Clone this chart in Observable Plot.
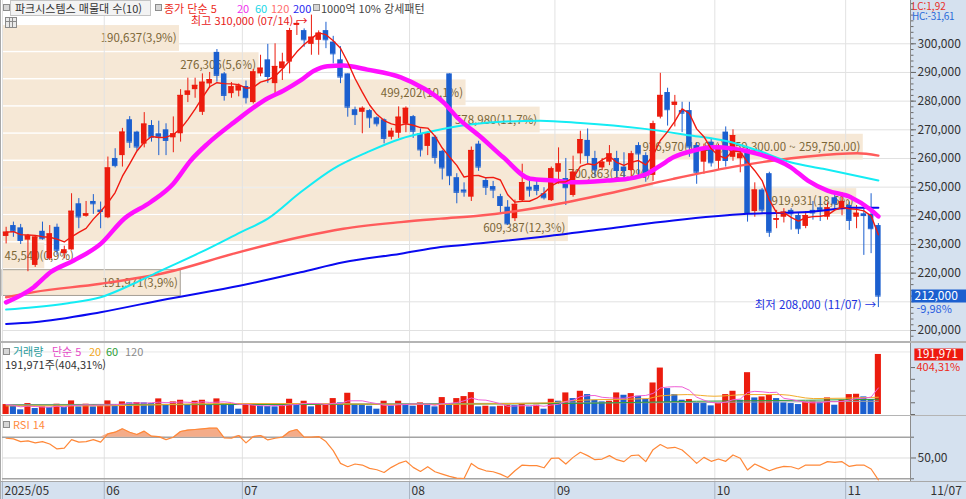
<!DOCTYPE html>
<html lang="ko">
<head>
<meta charset="utf-8">
<script src="https://cdn.jsdelivr.net/npm/d3@7"></script>
<script src="https://cdn.jsdelivr.net/npm/@observablehq/plot@0.6"></script>
<style>
html,body{margin:0;padding:0;background:#fff;}
#wrap{position:relative;width:966px;height:499px;overflow:hidden;background:#fff;font-family:"Noto Sans CJK KR","Noto Sans",sans-serif;color:#333;}
.layer{position:absolute;left:0;}
.bg{position:absolute;}
.t{position:absolute;white-space:nowrap;font-size:11px;line-height:12px;}
.sq{position:absolute;width:5px;height:5px;border:1px solid #8c8c8c;background:#d6d6d6;}
</style>
</head>
<body>
<div id="wrap"></div>
<script>
// ---------- DATA (prices in thousand won) ----------
const monthStarts = [
  {i: 0, label: "2025/05"}, {i: 14, label: "06"}, {i: 33, label: "07"}, {i: 56, label: "08"},
  {i: 76, label: "09"}, {i: 98, label: "10"}, {i: 116, label: "11"}
];
const lastDateLabel = "11/07";
const highDateLabel = "07/14";

const opens = [232.8,236.6,235.8,231.5,222.7,234.6,225.0,236.0,226.8,228.1,244.2,239.8,245.0,242.0,
  239.3,260.0,261.0,273.5,269.2,265.0,271.5,268.6,270.0,267.2,268.6,282.0,284.0,276.1,286.0,297.0,289.5,282.6,283.5,
  285.1,279.5,289.5,294.4,286.1,291.3,293.6,306.4,304.6,299.8,301.2,304.6,300.6,294.4,289.5,277.0,276.1,276.7,274.2,273.5,267.4,268.8,272.0,
  274.6,268.6,264.2,267.4,262.5,289.5,253.3,249.0,246.5,265.0,252.3,250.2,246.7,243.0,239.0,245.3,250.0,250.6,247.7,
  245.3,255.2,253.0,247.1,261.6,266.3,260.0,256.7,258.7,260.0,257.0,255.8,264.5,261.0,254.1,274.4,283.0,278.5,276.7,276.7,264.5,258.7,
  265.7,259.0,269.2,260.4,259.9,263.0,241.5,249.0,254.7,238.4,239.5,241.9,240.1,236.3,241.9,242.8,239.5,246.3,242.5,243.6,239.5,
  240.7,240.5,236.6];
const highs = [236.0,237.8,237.0,233.5,233.0,237.8,236.6,237.1,229.4,247.7,246.0,245.0,247.4,244.8,
  260.5,263.4,270.5,274.6,269.5,276.0,273.2,273.0,272.1,274.5,284.0,288.0,288.0,289.5,290.0,298.0,290.0,286.5,286.0,
  287.0,291.0,296.0,299.8,300.0,296.7,305.4,308.0,305.2,310.0,304.5,307.5,302.6,299.0,289.5,277.9,278.0,277.0,274.5,273.8,270.5,278.0,278.0,
  275.0,270.3,269.0,268.0,262.8,289.5,254.7,251.5,264.0,266.0,253.0,252.0,247.5,245.3,245.5,258.0,253.0,252.5,249.8,
  257.0,263.7,260.0,260.8,269.5,270.3,262.5,260.0,264.5,262.5,262.0,262.5,265.5,262.0,273.0,289.7,284.5,282.0,279.6,279.6,265.5,265.0,
  267.0,265.0,271.0,270.0,263.0,263.5,251.5,249.5,255.2,241.9,242.5,242.5,241.0,241.5,245.0,246.5,244.5,247.5,248.0,244.8,243.6,
  242.4,247.7,237.3];
const lows = [230.2,232.5,230.0,220.5,222.0,231.5,224.4,226.2,225.0,228.0,235.5,239.5,240.5,235.5,
  239.0,256.7,257.0,263.5,262.5,263.7,265.7,261.0,261.0,262.0,265.7,279.5,281.0,275.0,284.5,286.6,280.0,281.0,281.5,
  279.0,279.0,288.5,286.2,282.0,287.2,289.5,302.9,298.8,296.0,296.0,298.3,293.0,286.1,274.4,271.5,268.6,270.5,271.0,265.1,266.5,267.0,269.0,
  267.0,260.5,261.0,258.0,252.5,250.5,244.2,246.5,245.0,255.5,247.1,246.0,241.0,236.6,238.0,244.8,246.5,247.0,245.5,
  245.0,251.0,243.6,246.5,258.0,258.1,253.5,255.8,257.5,253.3,253.3,253.3,253.5,251.7,252.0,273.8,271.3,271.0,269.0,260.4,251.0,254.5,
  257.0,256.0,257.0,259.0,255.0,237.8,239.5,240.5,232.5,235.5,237.5,235.0,233.5,235.5,238.5,238.0,238.5,242.5,240.0,234.9,235.5,
  226.2,226.8,208.0];
const closes = [234.3,234.6,231.4,233.0,232.6,232.0,233.7,228.0,228.1,241.6,239.6,240.7,244.2,241.5,
  256.7,257.5,269.2,265.7,264.0,272.0,267.4,267.4,266.3,268.6,282.0,283.5,285.5,286.6,287.5,289.0,282.0,285.0,285.3,
  281.2,290.2,291.5,288.6,292.1,293.6,304.6,307.1,301.4,302.3,303.7,301.4,296.5,288.4,277.9,275.3,277.5,274.2,272.1,267.0,269.5,274.4,277.5,
  269.5,263.0,268.6,260.4,256.7,254.0,248.2,248.3,262.8,257.0,250.0,249.0,243.6,237.2,244.0,251.6,249.0,248.9,246.3,
  256.4,258.1,249.8,255.2,266.6,261.0,256.0,258.7,261.6,255.8,255.8,261.6,261.6,254.1,272.1,282.0,277.0,279.6,275.8,264.0,255.2,263.4,
  258.5,264.0,259.3,268.0,261.6,240.8,249.0,242.0,234.3,239.0,241.3,240.7,235.5,240.1,241.0,241.9,242.8,244.2,245.0,238.4,240.9,
  240.1,235.5,212.0];

// daily volume (shares)
const volumes = [31800,26500,14900,35000,19100,24400,22300,32900,22300,43500,24400,32900,24400,27600,
  43500,28600,40300,37100,38200,37100,35000,49900,29700,40300,45600,29700,42400,45600,29700,49900,35000,29700,17000,
  32900,35000,26500,25500,24400,29700,48800,30800,42400,24400,29700,31800,50900,37100,67900,31800,30800,26500,17000,42400,27600,42400,29700,
  26500,37100,29700,24400,54100,31800,50900,57300,70000,24400,26500,24400,26500,29700,28600,31800,24400,29700,17000,
  48800,42400,69000,50900,74300,63700,45600,40300,42400,69000,61500,66800,58400,48800,100800,148500,82800,63700,45600,47700,37100,35000,
  27600,35000,63700,74300,45600,133700,53000,56200,61500,50900,37100,35000,31800,40300,42400,38200,53000,29700,45600,63700,64700,
  56200,47481,191971];

// RSI(14)
const rsi14 = [69,68.4,65.8,66.5,64.5,65.8,63.5,58.7,59.4,67.7,65.2,65.8,67.7,65.2,
  73.2,74.8,78.1,74.8,72.6,75.8,71,70.6,67.7,70,75.5,76.8,77.4,78,78.7,78.7,69.4,69,71.6,
  64.5,70.6,71.6,67.4,69,70,75.5,77.4,70,70,70.6,65.8,57.1,44.8,41.6,44.2,43.2,40,38.7,36.1,41,44.8,47.1,
  41,37.1,41.6,36.8,34.5,32.3,30.6,30.3,44.8,40,37.7,36.8,34.5,31.3,37.7,43.2,42.6,42.6,40.6,
  49.7,50,44.2,50.6,55.5,52.3,48.4,49,52.3,48.4,46.5,52.3,52.9,46.5,58,62.9,59.4,60.3,57.7,51.6,44.8,50.6,
  46.8,49,46.8,52.9,49.7,38.4,44.2,41,37.7,40.3,41.9,41.6,39.4,43.2,43.2,43.2,46.5,45.8,46.5,41.9,43.2,
  43.2,39.4,29];

// price moving averages: [candle index, value]
const ma20Pts = [[0,209.8],[3.8,215.1],[6.1,220.3],[9.3,224.4],[13,230.2],[16.2,238.9],[19.9,244.8],[23,251.2],[25.4,259.3],[27.7,265.1],
  [31.3,272.5],[36,281],[38.2,283.7],[40.5,287.2],[42.3,290.5],[44.2,292.2],[46.4,292.4],[49.7,291],[54.3,288.3],[57.4,284.5],[60.2,279.5],
  [62.1,274.2],[65.3,267.5],[68.4,260.4],[72.1,252.9],[75.3,252.3],[78,251.7],[82.7,252.3],[85.5,252.9],[88.2,254.7],[90,257.5],[91.8,260.4],
  [94.6,262.8],[97.3,263.9],[100.1,263.4],[103.4,261.6],[107.9,257],[110.3,252.3],[113,248.8],[116.2,246.5],[118.9,242.2],[120,239.8]];
const ma60Pts = [[0,207.3],[3.8,208.1],[8.5,209.5],[13,211.6],[17.5,216.3],[20.8,220.3],[26.8,227.3],[32.3,234.3],[36,239],[40.5,248.2],
  [45,256.4],[49.7,262.2],[54.3,266.9],[58,269.2],[63.5,271.8],[73.5,273.2],[79,272.4],[87.3,270.5],[94.2,268],[99.2,266],[103.4,262.8],
  [107.9,258.7],[112.4,256.4],[120,252.3]];
const ma120Pts = [[0,211.6],[3.8,213.4],[13,216.3],[22.2,220.3],[31.3,226.8],[40.5,232.6],[46.4,235.5],[54.3,237.8],[59.8,239],[65.3,240.1],
  [73.5,243],[82.7,247.7],[91.8,252.9],[101,257.5],[105.6,259.3],[110.3,260.7],[117.1,261.8],[120,261]];
const ma200Pts = [[0,202.3],[3.8,202.9],[13,206.4],[22.2,211],[32.3,215.7],[40.5,220.3],[46.4,223.8],[54.3,226.8],[59.8,229.1],[65.3,230.4],
  [73.5,232.6],[82.7,235.5],[91.8,238.4],[102,240.7],[110.3,241.3],[116.5,242.8],[120,242.8]];

// volume moving averages
const volMa20Pts = [[0,27600],[13,27600],[22,31800],[31,35000],[40.5,35000],[49.7,32900],[58.8,31800],[65.3,34000],[74.4,37100],[79,45600],
  [88.2,50900],[90,59400],[93.7,63700],[97.4,58400],[102,63700],[106.6,63700],[111.1,50900],[120,55200]];
const volMa60Pts = [[0,29700],[30,31800],[60,33000],[80,36000],[95,42400],[110,45600],[120,48800]];
const volMa120Pts = [[0,31800],[60,35000],[90,38000],[120,42400]];

// volume profile (매물대), 10 bands from top price band to bottom
const profileVols = [190637, 276306, 499202, 578980, 926970, 700863, 919931, 609387, 45540, 191971];
const profileTop = 306.6, profileBottom = 211.8;
const pocLabel = "(259,300.00 ~ 259,750.00)";

// tick values
const priceTicks = d3.range(200, 301, 10);
const priceMinorTicks = d3.range(198, 315, 2);
const volTicks = [0, 37500, 75000, 112500, 150000];

// ---------- LAYOUT ----------
const fmt = d3.format(",");
const W = 966, ML = 2, MR = 56;
const X_DOMAIN = [-0.5, 124.42];
const xStep = (W - ML - MR) / (X_DOMAIN[1] - X_DOMAIN[0]);
const xAxisEnd = X_DOMAIN[1] + MR / xStep;
const PRICE_H = 341, PRICE_DOMAIN = [196.16, 315.10];
const VOL_TOP = 343, VOL_H = 72, VOL_DOMAIN = [0, 227000];
const RSI_TOP = 416, RSI_H = 65, RSI_DOMAIN = [27.4, 89.9];
const STRIP_TOP = 482, STRIP_H = 17;
const RED = "#ec1c0e", BLUE = "#1b5fcf";
const BODY = 0.38, BAR = 0.42;
const FONT = '"Noto Sans CJK KR","Noto Sans",sans-serif';
const baseStyle = {background: "transparent", overflow: "visible", fontFamily: FONT, fontSize: "12px", color: "#333"};

const N = closes.length;
const candles = d3.range(N).map(i => ({i, o: opens[i], h: highs[i], l: lows[i], c: closes[i]}));
const upC = candles.filter(d => d.c >= d.o), dnC = candles.filter(d => d.c < d.o);
const volData = volumes.map((v, i) => ({i, v, up: i === 0 || v > volumes[i - 1]}));
const rsiData = rsi14.map((r, i) => ({i, r}));
const lastClose = closes[N - 1], prevClose = closes[N - 2];
const chgPct = ((lastClose - prevClose) / prevClose * 100).toFixed(2).replace(".", ",") + "%";
const volRatio = (volumes[N - 1] / volumes[N - 2] * 100).toFixed(2).replace(".", ",") + "%";
const hiIdx = d3.maxIndex(highs), loIdx = d3.minIndex(lows);

const wrap = document.getElementById("wrap");
function bg(css) { const d = document.createElement("div"); d.className = "bg"; d.style.cssText = css; wrap.appendChild(d); }
function place(el, top) { const d = document.createElement("div"); d.className = "layer"; d.style.top = top + "px"; d.appendChild(el); wrap.appendChild(d); }
function txt(html, css) { const d = document.createElement("div"); d.className = "t"; d.style.cssText = css; d.innerHTML = html; wrap.appendChild(d); }
function sq(left, top) { const d = document.createElement("div"); d.className = "sq"; d.style.left = left + "px"; d.style.top = top + "px"; wrap.appendChild(d); }

// background columns
bg(`left:911px;top:0;width:55px;height:499px;background:#d5e1ef;`);
bg(`left:0;top:${STRIP_TOP}px;width:966px;height:${STRIP_H}px;background:#d5e1ef;`);

const lineOpts = (stroke, strokeWidth) => ({x: d => d[0], y: d => d[1], stroke, strokeWidth, curve: "monotone-x"});

// ---------- volume profile layer ----------
const bandStep = (profileTop - profileBottom) / profileVols.length;
const profileTotal = d3.sum(profileVols), profileMax = d3.max(profileVols);
const bands = profileVols.map((v, k) => {
  const hi = profileTop - k * bandStep, lo = hi - bandStep;
  return {v, hi, lo, mid: (hi + lo) / 2, current: lastClose >= lo && lastClose < hi,
    label: `${fmt(v)}(${(v / profileTotal * 100).toFixed(1).replace(".", ",")}%)` + (v === profileMax ? pocLabel : "")};
});
const wideBands = bands.filter(d => d.v / profileMax > 0.12), narrowBands = bands.filter(d => d.v / profileMax <= 0.12);

place(Plot.plot({
  width: W, height: PRICE_H, marginLeft: ML, marginRight: MR, marginTop: 0, marginBottom: 0,
  x: {domain: [0, profileMax / 0.948], axis: null},
  y: {domain: PRICE_DOMAIN, axis: null},
  style: baseStyle,
  marks: [
    Plot.ruleY(priceTicks, {stroke: "#e1e1e1"}),
    Plot.rect(bands, {x1: 0, x2: "v", y1: "lo", y2: "hi", fill: "#f6e8d6", insetTop: 0.7, insetBottom: 0.7}),
    Plot.rect(bands.filter(d => d.current), {x1: 0, x2: "v", y1: "lo", y2: "hi", fill: "none", stroke: "#a59f95", insetTop: 0.7, insetBottom: 0.7}),
    Plot.text(wideBands, {x: "v", y: "mid", text: "label", textAnchor: "end", dx: -3, fill: "#7b6637", fontSize: 11.5}),
    Plot.text(narrowBands, {x: 0, y: "mid", text: "label", textAnchor: "start", dx: 2, fill: "#7b6637", fontSize: 11.5})
  ]
}), 0);

// ---------- price layer ----------
place(Plot.plot({
  width: W, height: PRICE_H, marginLeft: ML, marginRight: MR, marginTop: 0, marginBottom: 0,
  x: {domain: X_DOMAIN, axis: null},
  y: {domain: PRICE_DOMAIN, axis: null},
  style: baseStyle,
  marks: [
    Plot.ruleX(monthStarts, {x: d => d.i - 0.5, stroke: "#e2e2e2"}),
    Plot.ruleX(upC, {x: "i", y1: "l", y2: "h", stroke: RED}),
    Plot.ruleX(dnC, {x: "i", y1: "l", y2: "h", stroke: BLUE}),
    Plot.rect(upC, {x1: d => d.i - BODY, x2: d => d.i + BODY, y1: "o", y2: "c", fill: RED}),
    Plot.rect(dnC, {x1: d => d.i - BODY, x2: d => d.i + BODY, y1: "o", y2: "c", fill: BLUE}),
    Plot.ruleY(upC, {x1: d => d.i - BODY, x2: d => d.i + BODY, y: "c", stroke: RED}),
    Plot.ruleY(dnC, {x1: d => d.i - BODY, x2: d => d.i + BODY, y: "c", stroke: BLUE}),
    Plot.line(ma200Pts, lineOpts("#0a0af0", 2)),
    Plot.line(ma120Pts, lineOpts("#ff5b5b", 2.4)),
    Plot.line(ma60Pts, lineOpts("#14ecf4", 2)),
    Plot.line(ma20Pts, lineOpts("#ff10ff", 4.5)),
    Plot.lineY(candles, Plot.windowY({k: 5, anchor: "end"}, {x: "i", y: "c", stroke: "#f01a10", strokeWidth: 1.4})),
    Plot.text([{i: hiIdx, v: highs[hiIdx]}], {x: "i", y: "v", text: d => `최고 ${fmt(d.v * 1000)} (${highDateLabel}) →`, textAnchor: "end", dx: -4, dy: 6, fill: "#e8201a", fontSize: 11}),
    Plot.text([{i: loIdx, v: lows[loIdx]}], {x: "i", y: "v", text: d => `최저 ${fmt(d.v * 1000)} (${lastDateLabel}) →`, textAnchor: "end", dx: -2, dy: -2, fill: "#2030e0", fontSize: 11.5}),
    // right price axis
    Plot.axisY({anchor: "right", label: null, ticks: priceMinorTicks, tickSize: 2.5, tickFormat: () => "", stroke: "#6a6a6a"}),
    Plot.axisY({anchor: "right", label: null, ticks: priceTicks.filter(t => t !== 210), tickSize: 5, tickPadding: 2, tickFormat: d => fmt(d * 1000), fill: "#333", stroke: "#6a6a6a", fontSize: 12}),
    Plot.ruleY([lastClose], {x1: X_DOMAIN[1] + 0.2, x2: xAxisEnd, stroke: BLUE, strokeWidth: 13}),
    Plot.text([lastClose], {x: X_DOMAIN[1], y: d => d, text: d => fmt(d * 1000), textAnchor: "start", dx: 4, fill: "white", fontSize: 12}),
    Plot.text([lastClose], {x: X_DOMAIN[1], y: d => d, text: () => chgPct, textAnchor: "start", dx: 6, dy: 13, fill: "#2a5ee0", fontSize: 11})
  ]
}), 0);

// ---------- volume layer ----------
place(Plot.plot({
  width: W, height: VOL_H, marginLeft: ML, marginRight: MR, marginTop: 0, marginBottom: 1,
  x: {domain: X_DOMAIN, axis: null},
  y: {domain: VOL_DOMAIN, axis: null},
  style: baseStyle,
  marks: [
    Plot.ruleY([200000], {stroke: "#e6e6e6"}),
    Plot.ruleX(monthStarts, {x: d => d.i - 0.5, stroke: "#e2e2e2"}),
    Plot.rect(volData.filter(d => d.up), {x1: d => d.i - BAR, x2: d => d.i + BAR, y1: 0, y2: "v", fill: RED}),
    Plot.rect(volData.filter(d => !d.up), {x1: d => d.i - BAR, x2: d => d.i + BAR, y1: 0, y2: "v", fill: BLUE}),
    Plot.line(volMa120Pts, lineOpts("#a0a0a0", 1)),
    Plot.line(volMa60Pts, lineOpts("#2f9e3a", 1)),
    Plot.line(volMa20Pts, lineOpts("#f2ac2a", 1)),
    Plot.lineY(volData, Plot.windowY({k: 5, anchor: "end"}, {x: "i", y: "v", stroke: "#ef5fd6", strokeWidth: 1})),
    Plot.axisY({anchor: "right", label: null, ticks: volTicks, tickSize: 4, tickFormat: () => "", stroke: "#6a6a6a"}),
    Plot.ruleY([volumes[N - 1]], {x1: X_DOMAIN[1] + 0.6, x2: X_DOMAIN[1] + 7.3, stroke: "#ee1a10", strokeWidth: 12}),
    Plot.text([volumes[N - 1]], {x: X_DOMAIN[1], y: d => d, text: d => fmt(d), textAnchor: "start", dx: 6, fill: "white", fontSize: 11.5}),
    Plot.text([volumes[N - 1]], {x: X_DOMAIN[1], y: d => d, text: () => volRatio, textAnchor: "start", dx: 6, dy: 13, fill: "#ee2a20", fontSize: 11})
  ]
}), VOL_TOP);

// ---------- RSI layer ----------
place(Plot.plot({
  width: W, height: RSI_H, marginLeft: ML, marginRight: MR, marginTop: 0, marginBottom: 0,
  x: {domain: X_DOMAIN, axis: null},
  y: {domain: RSI_DOMAIN, axis: null},
  style: baseStyle,
  marks: [
    Plot.ruleX(monthStarts, {x: d => d.i - 0.5, stroke: "#e2e2e2"}),
    Plot.ruleY([50], {stroke: "#dcdcdc"}),
    Plot.ruleY([70, 30], {stroke: "#a4a4a4", strokeWidth: 1.6}),
    Plot.area(rsiData, {x1: "i", y1: 70, y2: d => Math.max(70, d.r), fill: "#f3a37c", fillOpacity: 0.9}),
    Plot.line(rsiData, {x: "i", y: "r", stroke: "#ff8838", strokeWidth: 1.2}),
    Plot.axisY({anchor: "right", label: null, ticks: [30, 70], tickSize: 3, tickFormat: () => "", stroke: "#6a6a6a"}),
    Plot.axisY({anchor: "right", label: null, ticks: [50], tickSize: 5, tickPadding: 2, tickFormat: d => d.toFixed(2).replace(".", ","), fill: "#333", stroke: "#6a6a6a", fontSize: 12})
  ]
}), RSI_TOP);

// ---------- time strip ----------
place(Plot.plot({
  width: W, height: STRIP_H, marginLeft: ML, marginRight: MR, marginTop: 0, marginBottom: 0,
  x: {domain: X_DOMAIN, axis: null},
  style: baseStyle,
  marks: [
    Plot.ruleX(monthStarts, {x: d => d.i - 0.5, stroke: "#a9b4c3"}),
    Plot.text(monthStarts, {x: d => d.i - 0.5, text: "label", textAnchor: "start", dx: 2, fill: "#333", fontSize: 12}),
    Plot.text([lastDateLabel], {x: X_DOMAIN[1], text: d => d, textAnchor: "start", dx: 20, fill: "#333", fontSize: 12})
  ]
}), STRIP_TOP);

// ---------- frame lines ----------
bg(`left:0;top:0;width:1px;height:499px;background:#a8a8a8;`);
bg(`left:910px;top:0;width:1px;height:482px;background:#8c8c8c;`);
bg(`left:0;top:341px;width:966px;height:2px;background:#b4b4b4;`);
bg(`left:0;top:414.5px;width:966px;height:1.5px;background:#b4b4b4;`);
bg(`left:0;top:480.5px;width:966px;height:1.5px;background:#a8a8a8;`);

// ---------- header texts / legends ----------
sq(3, 4);
txt(``, `left:10px;top:0;width:139px;height:14px;border:1px solid #c4c4c4;background:#f3f3f3;`);
txt(`파크시스템스 매물대 수(10)`, `left:15px;top:2px;color:#333;`);
sq(155, 4);
txt(`종가 단순 5`, `left:164px;top:2px;color:#ec2a20;`);
txt(`20`, `left:237px;top:2px;color:#f030f0;`);
txt(`60`, `left:255px;top:2px;color:#1ad6e6;`);
txt(`120`, `left:271px;top:2px;color:#ff6c6c;`);
txt(`200`, `left:293px;top:2px;color:#2828f0;`);
sq(313, 4);
txt(`1000억 10% 강세패턴`, `left:321px;top:2px;color:#444;`);
txt(``, `left:5px;top:17px;width:10px;height:9px;border:1px solid #8a8a8a;background:linear-gradient(#8a8a8a,#8a8a8a) 0 3px/100% 1px no-repeat,linear-gradient(#8a8a8a,#8a8a8a) 3px 0/1px 100% no-repeat,linear-gradient(#8a8a8a,#8a8a8a) 6px 0/1px 100% no-repeat,#eaeaea;`);
txt(`LC:1,92`, `left:912px;top:1px;color:#e8302a;font-size:10px;line-height:10px;`);
txt(`HC:-31,61`, `left:912px;top:11px;color:#2a6ad8;font-size:10px;line-height:10px;letter-spacing:-0.3px;`);

sq(3, 348);
txt(`거래량`, `left:13px;top:345px;color:#2a9c9c;`);
txt(`단순 5`, `left:52px;top:345px;color:#e64cc8;`);
txt(`20`, `left:89px;top:345px;color:#f2a622;`);
txt(`60`, `left:106px;top:345px;color:#2f9e3a;`);
txt(`120`, `left:125px;top:345px;color:#8a8a8a;`);
txt(`${fmt(volumes[N - 1])}주(${volRatio})`, `left:5px;top:358px;color:#333;`);

sq(3, 421);
txt(`RSI 14`, `left:13px;top:418px;color:#ff8a3d;`);
</script>
</body>
</html>
